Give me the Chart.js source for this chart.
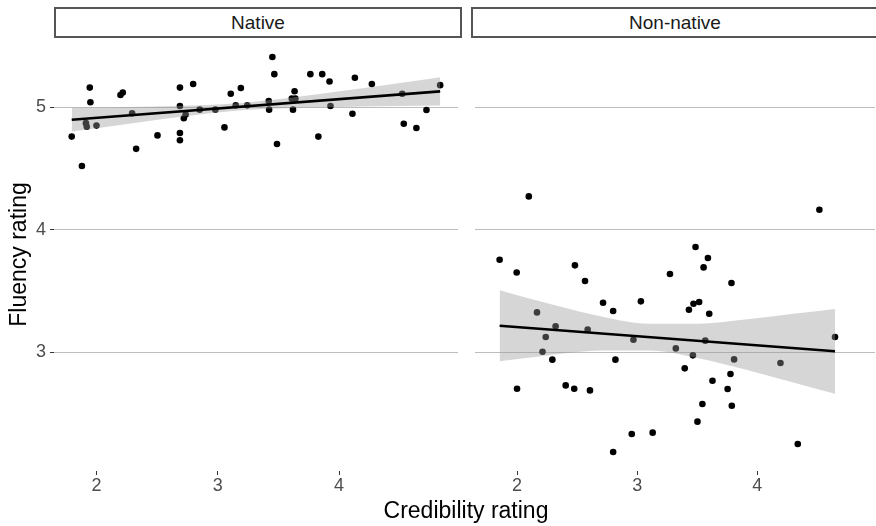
<!DOCTYPE html>
<html>
<head>
<meta charset="utf-8">
<script src="https://cdn.jsdelivr.net/npm/chart.js@4/dist/chart.umd.min.js"></script>
<style>
  body { margin: 0; width: 876px; height: 526px; overflow: hidden; position: relative; background: #fff; font-family: "Liberation Sans", Arial, sans-serif; }
  canvas { position: absolute; top: 0; }
  #chartNative { left: 0; }
  #chartNonNative { left: 471px; }
  .strip { position: absolute; top: 7px; height: 31px; width: 408px; box-sizing: border-box; border: 2px solid #555; background: #fff;
           font-size: 19px; line-height: 27px; text-align: center; color: #1a1a1a; }
  #xTitle { position: absolute; left: 266px; width: 400px; top: 499px; font-size: 23px; line-height: 23px; text-align: center; color: #000; }
</style>
</head>
<body>
<canvas id="chartNative" width="462" height="526"></canvas>
<canvas id="chartNonNative" width="408" height="526"></canvas>
<div class="strip" style="left:54px">Native</div>
<div class="strip" style="left:471px">Non-native</div>
<div id="xTitle">Credibility rating</div>
<script>
// tick labels and axis limits
const xTicks = [2, 3, 4];
const yTicks = [3, 4, 5];
const xLimits = [1.65, 4.98];
const yLimits = [2.03, 5.565];

// Native speakers: credibility vs fluency
const nativeX = [1.796, 1.88, 1.92, 1.913, 2.00, 1.945, 1.95, 2.198, 2.217, 2.294, 2.327, 2.503,
  2.688, 2.688, 2.688, 2.688, 2.72, 2.735, 2.797, 2.851, 2.98, 3.055, 3.107, 3.148, 3.19, 3.243,
  3.42, 3.423, 3.45, 3.466, 3.488, 3.61, 3.62, 3.633, 3.64, 3.763, 3.829, 3.861, 3.921, 3.929,
  4.11, 4.13, 4.27, 4.52, 4.533, 4.637, 4.72, 4.833];
const nativeY = [4.76, 4.52, 4.84, 4.87, 4.85, 5.16, 5.04, 5.10, 5.12, 4.95, 4.66, 4.77,
  5.16, 5.01, 4.79, 4.73, 4.91, 4.94, 5.19, 4.98, 4.98, 4.835, 5.11, 5.015, 5.157, 5.015,
  5.05, 4.98, 5.41, 5.27, 4.70, 5.07, 4.98, 5.13, 5.07, 5.27, 4.76, 5.27, 5.21, 5.01,
  4.947, 5.24, 5.19, 5.11, 4.865, 4.83, 4.977, 5.18];

// Non-native speakers
const nonNativeX = [2.098, 4.517, 1.855, 1.997, 2.482, 2.566, 3.273, 3.486, 3.589, 3.553, 3.785,
  2.716, 2.80, 3.031, 3.431, 3.469, 3.516, 3.60, 2.166, 2.321, 2.588, 2.239, 2.969, 3.567, 4.647,
  2.212, 3.322, 3.464, 2.294, 2.819, 3.807, 4.193, 3.396, 3.777, 3.627, 3.753, 2.00, 2.405,
  2.476, 2.607, 3.543, 3.788, 3.502, 2.955, 3.129, 2.80, 4.337];
const nonNativeY = [4.272, 4.163, 3.755, 3.651, 3.709, 3.581, 3.638, 3.859, 3.769, 3.692, 3.565,
  3.404, 3.336, 3.415, 3.347, 3.396, 3.41, 3.314, 3.325, 3.211, 3.184, 3.124, 3.102, 3.094, 3.124,
  3.004, 3.031, 2.974, 2.939, 2.939, 2.941, 2.912, 2.868, 2.822, 2.767, 2.70, 2.702, 2.729,
  2.702, 2.688, 2.577, 2.563, 2.433, 2.332, 2.343, 2.185, 2.251];

// fitted lines and confidence bands
const nativeFitX = [1.796, 4.833];
const nativeFitY = [4.898, 5.129];
const nativeBandX = [1.796, 2.3, 2.8, 3.2, 3.6, 4.1, 4.5, 4.833];
const nativeBandLo = [4.801, 4.870, 4.935, 4.975, 4.993, 5.004, 5.010, 5.013];
const nativeBandHi = [4.995, 5.002, 5.013, 5.035, 5.077, 5.142, 5.198, 5.245];

const nonNativeFitX = [1.855, 4.647];
const nonNativeFitY = [3.216, 3.007];
const nonNativeBandX = [1.855, 2.3, 2.7, 3.1, 3.5, 3.9, 4.3, 4.647];
const nonNativeBandLo = [2.926, 2.979, 3.013, 3.013, 2.953, 2.859, 2.753, 2.661];
const nonNativeBandHi = [3.506, 3.387, 3.292, 3.233, 3.232, 3.267, 3.313, 3.353];

function pairs(xs, ys) {
    return xs.map((x, i) => ({ x: x, y: ys[i] }));
}

function desenharPainel(canvasId, px, py, fitX, fitY, bandX, bandLo, bandHi, comEixoY) {
    return new Chart(document.getElementById(canvasId), {
        type: 'line',
        data: {
            datasets: [
                {
                    data: pairs(fitX, fitY),
                    borderColor: '#000',
                    borderWidth: 2.6,
                    pointRadius: 0,
                    fill: false,
                    order: 1
                },
                {
                    data: pairs(bandX, bandHi),
                    borderWidth: 0,
                    borderColor: 'rgba(0,0,0,0)',
                    backgroundColor: 'rgba(153,153,153,0.4)',
                    pointRadius: 0,
                    cubicInterpolationMode: 'monotone',
                    fill: '+1',
                    order: 2
                },
                {
                    data: pairs(bandX, bandLo),
                    borderWidth: 0,
                    borderColor: 'rgba(0,0,0,0)',
                    pointRadius: 0,
                    cubicInterpolationMode: 'monotone',
                    fill: false,
                    order: 2
                },
                {
                    data: pairs(px, py),
                    showLine: false,
                    pointRadius: 3.3,
                    pointBackgroundColor: '#000',
                    pointBorderWidth: 0,
                    order: 3
                }
            ]
        },
        options: {
            responsive: false,
            animation: false,
            layout: { padding: { top: 38, left: 0, right: 0, bottom: 0 } },
            plugins: { legend: { display: false }, tooltip: { enabled: false } },
            scales: {
                x: {
                    type: 'linear',
                    min: xLimits[0],
                    max: xLimits[1],
                    afterBuildTicks: (scale) => { scale.ticks = xTicks.map(v => ({ value: v })); },
                    afterFit: (scale) => { scale.height = 55; },
                    border: { display: false },
                    grid: { drawOnChartArea: false, drawTicks: true, tickLength: 4, tickColor: '#333' },
                    ticks: { color: '#4d4d4d', font: { family: 'Liberation Sans', size: 18 }, padding: 0, maxRotation: 0 }
                },
                y: {
                    type: 'linear',
                    min: yLimits[0],
                    max: yLimits[1],
                    afterBuildTicks: (scale) => { scale.ticks = yTicks.map(v => ({ value: v })); },
                    afterFit: (scale) => { scale.width = comEixoY ? 54 : 0; },
                    border: { display: false },
                    grid: { color: '#bdbdbd', lineWidth: 1, drawTicks: comEixoY, tickLength: 4, tickColor: '#333' },
                    ticks: { display: comEixoY, color: '#4d4d4d', font: { family: 'Liberation Sans', size: 18 }, padding: 4 },
                    title: {
                        display: comEixoY,
                        text: 'Fluency rating',
                        color: '#000',
                        font: { family: 'Liberation Sans', size: 23 },
                        padding: { top: 6, bottom: 0 }
                    }
                }
            }
        }
    });
}

desenharPainel('chartNative', nativeX, nativeY, nativeFitX, nativeFitY, nativeBandX, nativeBandLo, nativeBandHi, true);
desenharPainel('chartNonNative', nonNativeX, nonNativeY, nonNativeFitX, nonNativeFitY, nonNativeBandX, nonNativeBandLo, nonNativeBandHi, false);
</script>
</body>
</html>
